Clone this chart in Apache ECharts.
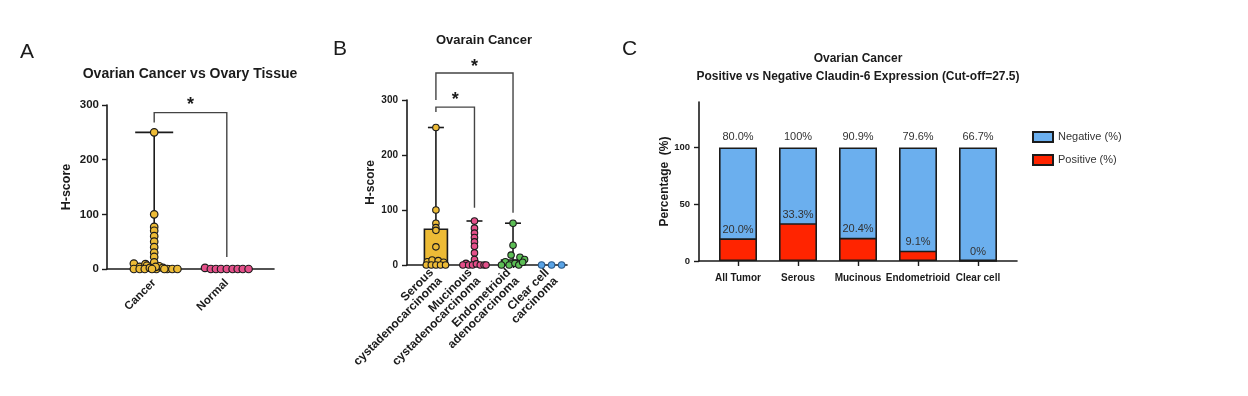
<!DOCTYPE html>
<html><head><meta charset="utf-8">
<script src="https://cdn.jsdelivr.net/npm/echarts@6/dist/echarts.min.js"></script>
<style>html,body{margin:0;padding:0;background:#fff}#c{width:1248px;height:396px}</style>
</head><body><div id="c"></div>
<script>
// ---------- Panel A data ----------
const aCategories = ['Cancer', 'Normal'];
const aYTicks = [0, 100, 200, 300];
const aCancerOffset = [0, 0, 0, 0, 0, 0, 0, 0, 0, 0, -0.28, -0.2, -0.12, -0.1, -0.28, -0.2, -0.13, -0.06, 0.03, 0.07, 0.12, 0.18, 0.25, 0.32, 0.14, 0.02, -0.03];
const aCancerScore = [250, 100, 77, 70, 60, 50, 40, 30, 22, 12, 10, 4, 9, 6, 0, 0, 0, 2, 0, 5, 2, 0, 0, 0, 0, 4, 0];
const aNormalOffset = [-0.3, -0.22, -0.15, -0.08, 0, 0.08, 0.15, 0.22, 0.3];
const aNormalScore = [2, 0, 0, 0, 0, 0, 0, 0, 0];
// box stats: [min, q1, median, q3, max]
const aBoxStats = [[0, 0, 0, 6, 250]];
// bracket: [fromIndex, toIndex, top, leftBottom, rightBottom, starLevel]
const aBrackets = [[0, 1, 286, 268, 22, 300]];

// ---------- Panel B data ----------
const bCategories = ['Serous\ncystadenocarcinoma', 'Mucinous\ncystadenocarcinoma', 'Endometrioid\nadenocarcinoma', 'Clear cell\ncarcinoma'];
const bYTicks = [0, 100, 200, 300];
const bSerousOffset = [0, 0, 0, 0, 0, 0, -0.22, -0.1, 0.06, 0.2, -0.25, -0.12, 0, 0.12, 0.25];
const bSerousScore = [250, 100, 76, 68, 63, 33, 6, 9, 8, 5, 0, 0, 0, 0, 0];
const bMucinousOffset = [0, 0, 0, 0, 0, 0, 0, 0, -0.22, -0.3, -0.15, -0.05, 0.05, 0.15, 0.25, 0.3];
const bMucinousScore = [80, 67, 58, 50, 42, 34, 22, 10, 3, 0, 0, 0, 2, 0, 0, 0];
const bEndoOffset = [0, 0, -0.05, 0.18, 0.3, -0.2, -0.3, -0.1, 0.05, 0.15, 0.25];
const bEndoScore = [76, 36, 18, 14, 10, 6, 0, 0, 3, 0, 5];
const bClearOffset = [-0.26, 0, 0.26];
const bClearScore = [0, 0, 0];
const bBoxStats = [[0, 0, 5, 65, 250], [0, 0, 0, 4, 80], [0, 0, 3, 9, 76], [0, 0, 0, 0, 0]];
const bBrackets = [[0, 2, 349, 300, 95, 360], [0, 1, 287, 278, 104, 300]];

// ---------- Panel C data ----------
const cCategories = ['All Tumor', 'Serous', 'Mucinous', 'Endometrioid', 'Clear cell'];
const cPositive = [20, 33.3, 20.4, 9.1, 0];
const cTotal = [100, 100, 100, 100, 100];
const cNegLabels = ['80.0%', '100%', '90.9%', '79.6%', '66.7%'];
const cPosLabels = ['20.0%', '33.3%', '20.4%', '9.1%', '0%'];
const cYTicks = [0, 50, 100];

// ---------- styling ----------
const FONT = '"Liberation Sans", Arial, sans-serif';
const INK = '#1b1b1b';
const YEL = '#EDBB36', PINK = '#E4508A', GREEN = '#5CBE55', BLUE_PT = '#5AA4E6';
const NEG = '#6BAFEE', POS = '#FF2400';

function pts(offsets, scores, idx) { return scores.map((s, i) => [idx + offsets[i], s]); }
function boxData(stats) { return stats.map((s, i) => [i].concat(s)); }

function boxRenderer(boxW, capW, colors) {
  return function (params, api) {
    const x = api.value(0);
    const q1 = api.coord([x, api.value(2)]), q3 = api.coord([x, api.value(4)]), mx = api.coord([x, api.value(5)]);
    const st = { stroke: INK, lineWidth: 1.6 };
    const ch = [];
    if (mx[1] < q3[1]) {
      ch.push({ type: 'line', shape: { x1: mx[0], y1: mx[1], x2: q3[0], y2: q3[1] }, style: st });
      ch.push({ type: 'line', shape: { x1: mx[0] - capW / 2, y1: mx[1], x2: mx[0] + capW / 2, y2: mx[1] }, style: st });
    }
    if (q1[1] - q3[1] > 0.5) {
      ch.push({ type: 'rect', shape: { x: q3[0] - boxW / 2, y: q3[1], width: boxW, height: q1[1] - q3[1] }, style: { fill: colors[params.dataIndex], stroke: INK, lineWidth: 1.6 } });
    }
    return { type: 'group', children: ch };
  };
}
function bracketRenderer(params, api) {
  const x1 = api.value(0), x2 = api.value(1), top = api.value(2), lb = api.value(3), rb = api.value(4), sl = api.value(5);
  const p1 = api.coord([x1, lb]), p2 = api.coord([x1, top]), p3 = api.coord([x2, top]), p4 = api.coord([x2, rb]);
  const ps = api.coord([(x1 + x2) / 2, sl]);
  return {
    type: 'group', children: [
      { type: 'polyline', shape: { points: [p1, p2, p3, p4] }, style: { stroke: '#444', lineWidth: 1.4, fill: null } },
      { type: 'text', x: ps[0], y: ps[1], style: { text: '*', font: 'bold 18px ' + FONT, fill: INK, align: 'center', verticalAlign: 'middle' } }
    ]
  };
}

const axisLineStyle = { onZero: false, lineStyle: { color: INK, width: 1.6 } };
const yLineStyle = { show: true, onZero: false, lineStyle: { color: INK, width: 1.6 } };

const option = {
  animation: false,
  backgroundColor: '#fff',
  textStyle: { fontFamily: FONT },
  title: [
    { text: 'A', left: 20, top: 40, padding: 0, textStyle: { fontSize: 21, fontWeight: 'normal', color: INK, fontFamily: FONT, lineHeight: 24 } },
    { text: 'B', left: 333, top: 37, padding: 0, textStyle: { fontSize: 21, fontWeight: 'normal', color: INK, fontFamily: FONT, lineHeight: 24 } },
    { text: 'C', left: 622, top: 37, padding: 0, textStyle: { fontSize: 21, fontWeight: 'normal', color: INK, fontFamily: FONT, lineHeight: 24 } },
    { text: 'Ovarian Cancer vs Ovary Tissue', left: 190, top: 66, textAlign: 'center', padding: 0, textStyle: { fontSize: 14, fontWeight: 'bold', color: INK, fontFamily: FONT, lineHeight: 16 } },
    { text: 'Ovarain Cancer', left: 484, top: 32, textAlign: 'center', padding: 0, textStyle: { fontSize: 13, fontWeight: 'bold', color: INK, fontFamily: FONT, lineHeight: 16 } },
    { text: 'Ovarian Cancer\nPositive vs Negative Claudin-6 Expression (Cut-off=27.5)', left: 858, top: 50, textAlign: 'center', padding: 0, textStyle: { fontSize: 12, fontWeight: 'bold', color: INK, fontFamily: FONT, lineHeight: 18 } }
  ],
  legend: {
    data: ['Negative (%)', 'Positive (%)'], orient: 'vertical', left: 1032, top: 131, padding: 0,
    itemWidth: 20, itemHeight: 10, itemGap: 11, icon: 'rect',
    textStyle: { fontSize: 11, color: '#333', fontFamily: FONT }
  },
  grid: [
    { left: 107, top: 105, width: 167, height: 164 },
    { left: 407, top: 100, width: 160, height: 165 },
    { left: 699, top: 102, width: 318, height: 159 }
  ],
  xAxis: [
    { gridIndex: 0, type: 'value', min: -0.65, max: 1.65, splitLine: { show: false }, axisLine: axisLineStyle,
      axisTick: { customValues: [0, 1], length: 3, lineStyle: { color: INK, width: 1.4 } },
      axisLabel: { customValues: [0, 1], rotate: 45, margin: 12, fontSize: 11.5, fontWeight: 'bold', color: INK, formatter: v => aCategories[Math.round(v)] } },
    { gridIndex: 1, type: 'value', min: -0.75, max: 3.4, splitLine: { show: false }, axisLine: axisLineStyle,
      axisTick: { customValues: [0, 1, 2, 3], length: 3, lineStyle: { color: INK, width: 1.4 } },
      axisLabel: { customValues: [0, 1, 2, 3], rotate: 45, margin: 10, fontSize: 12, fontWeight: 'bold', color: INK, lineHeight: 12, formatter: v => bCategories[Math.round(v)] } },
    { gridIndex: 2, type: 'value', min: -0.65, max: 4.65, splitLine: { show: false }, axisLine: axisLineStyle,
      axisTick: { customValues: [0, 1, 2, 3, 4], length: 5, lineStyle: { color: INK, width: 1.4 } },
      axisLabel: { customValues: [0, 1, 2, 3, 4], margin: 12, fontSize: 10, fontWeight: 'bold', color: INK, formatter: v => cCategories[Math.round(v)] } }
  ],
  yAxis: [
    { gridIndex: 0, type: 'value', min: 0, max: 300, interval: 100, splitLine: { show: false },
      axisLine: yLineStyle, axisTick: { show: true, length: 5, lineStyle: { color: INK, width: 1.4 } },
      axisLabel: { margin: 8, fontSize: 11.5, fontWeight: 'bold', color: INK },
      name: 'H-score', nameLocation: 'middle', nameGap: 34, nameTextStyle: { fontSize: 12.5, fontWeight: 'bold', color: INK } },
    { gridIndex: 1, type: 'value', min: 0, max: 300, interval: 100, splitLine: { show: false },
      axisLine: yLineStyle, axisTick: { show: true, length: 5, lineStyle: { color: INK, width: 1.4 } },
      axisLabel: { margin: 9, fontSize: 10, fontWeight: 'bold', color: INK },
      name: 'H-score', nameLocation: 'middle', nameGap: 30, nameTextStyle: { fontSize: 12, fontWeight: 'bold', color: INK } },
    { gridIndex: 2, type: 'value', min: 0, max: 140, splitLine: { show: false },
      axisLine: yLineStyle,
      axisTick: { show: true, customValues: cYTicks, length: 5, lineStyle: { color: INK, width: 1.4 } },
      axisLabel: { customValues: cYTicks, margin: 9, fontSize: 9.5, fontWeight: 'bold', color: INK },
      name: 'Percentage  (%)', nameLocation: 'middle', nameGap: 27, nameTextStyle: { fontSize: 12, fontWeight: 'bold', color: INK } }
  ],
  series: [
    // Panel A
    { type: 'custom', xAxisIndex: 0, yAxisIndex: 0, z: 2, renderItem: boxRenderer(30, 38, [YEL]),
      encode: { x: 0, y: [1, 2, 3, 4, 5] }, data: boxData(aBoxStats) },
    { type: 'custom', xAxisIndex: 0, yAxisIndex: 0, z: 2, clip: false, renderItem: bracketRenderer,
      encode: { x: [0, 1], y: [2, 3, 4, 5] }, data: aBrackets },
    { type: 'scatter', xAxisIndex: 0, yAxisIndex: 0, z: 5, symbolSize: 7.5, itemStyle: { color: YEL, borderColor: INK, borderWidth: 1.2, opacity: 1 }, data: pts(aCancerOffset, aCancerScore, 0) },
    { type: 'scatter', xAxisIndex: 0, yAxisIndex: 0, z: 5, symbolSize: 7.5, itemStyle: { color: PINK, borderColor: INK, borderWidth: 1.2, opacity: 1 }, data: pts(aNormalOffset, aNormalScore, 1) },
    // Panel B
    { type: 'custom', xAxisIndex: 1, yAxisIndex: 1, z: 2, renderItem: boxRenderer(23, 16, [YEL, PINK, GREEN, BLUE_PT]),
      encode: { x: 0, y: [1, 2, 3, 4, 5] }, data: boxData(bBoxStats) },
    { type: 'custom', xAxisIndex: 1, yAxisIndex: 1, z: 2, clip: false, renderItem: bracketRenderer,
      encode: { x: [0, 1], y: [2, 3, 4, 5] }, data: bBrackets },
    { type: 'scatter', xAxisIndex: 1, yAxisIndex: 1, z: 5, symbolSize: 6.5, itemStyle: { color: YEL, borderColor: INK, borderWidth: 1.1, opacity: 1 }, data: pts(bSerousOffset, bSerousScore, 0) },
    { type: 'scatter', xAxisIndex: 1, yAxisIndex: 1, z: 5, symbolSize: 6.5, itemStyle: { color: PINK, borderColor: INK, borderWidth: 1.1, opacity: 1 }, data: pts(bMucinousOffset, bMucinousScore, 1) },
    { type: 'scatter', xAxisIndex: 1, yAxisIndex: 1, z: 5, symbolSize: 6.5, itemStyle: { color: GREEN, borderColor: INK, borderWidth: 1.1, opacity: 1 }, data: pts(bEndoOffset, bEndoScore, 2) },
    { type: 'scatter', xAxisIndex: 1, yAxisIndex: 1, z: 5, symbolSize: 6.5, itemStyle: { color: BLUE_PT, borderColor: '#2c5a8a', borderWidth: 1.1, opacity: 1 }, data: pts(bClearOffset, bClearScore, 3) },
    // Panel C
    { name: 'Negative (%)', type: 'bar', xAxisIndex: 2, yAxisIndex: 2, barWidth: 38, barGap: '-100%',
      itemStyle: { color: NEG, borderColor: INK, borderWidth: 1.6 },
      label: { show: true, position: 'top', distance: 5, fontSize: 11, color: '#333', formatter: p => cNegLabels[p.dataIndex] },
      data: cTotal.map((v, i) => [i, v]) },
    { name: 'Positive (%)', type: 'bar', xAxisIndex: 2, yAxisIndex: 2, barWidth: 38, barGap: '-100%',
      itemStyle: { color: POS, borderColor: INK, borderWidth: 1.6 },
      label: { show: true, position: 'top', distance: 3, fontSize: 11, color: '#333', formatter: p => cPosLabels[p.dataIndex] },
      data: cPositive.map((v, i) => [i, v]) }
  ]
};
const chart = echarts.init(document.getElementById('c'), null, { renderer: 'canvas' });
chart.setOption(option);
</script>
</body></html>
